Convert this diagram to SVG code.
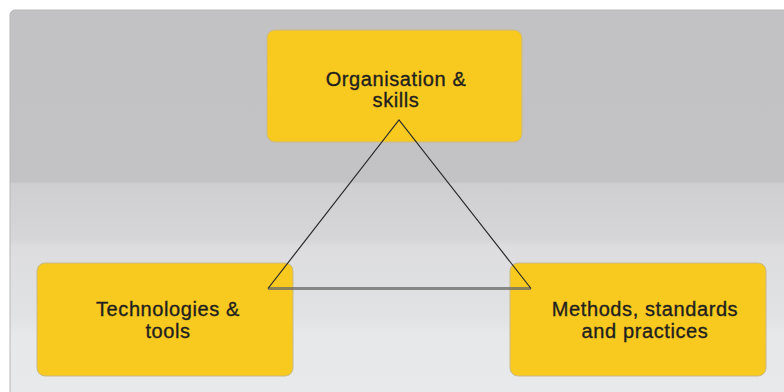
<svg xmlns="http://www.w3.org/2000/svg" width="784" height="392" viewBox="0 0 784 392">
<defs>
<linearGradient id="bg" x1="0" y1="10" x2="0" y2="392" gradientUnits="userSpaceOnUse">
<stop offset="0" stop-color="#c2c2c4"/>
<stop offset="0.45" stop-color="#c3c3c5"/>
<stop offset="0.455" stop-color="#cfcfd1"/>
<stop offset="0.6" stop-color="#d6d6d8"/>
<stop offset="0.62" stop-color="#dddddf"/>
<stop offset="0.8" stop-color="#e1e2e4"/>
<stop offset="0.85" stop-color="#e7e8ea"/>
<stop offset="1" stop-color="#e8e9eb"/>
</linearGradient>
<style>
.box{fill:#f8c91f;stroke:#c9b98a;stroke-width:1}
.lbl{font-family:"Liberation Sans",Arial,sans-serif;font-size:20px;letter-spacing:0.6px;fill:#1f1f1f;stroke:#1f1f1f;stroke-width:0.35;text-anchor:middle}
.side{fill:none;stroke:#2a2a2a;stroke-width:1.2}
.base{fill:none;stroke:#6a6a6a;stroke-width:3;stroke-opacity:0.75}
</style>
</defs>
<rect width="784" height="392" fill="#ffffff"/>
<rect x="10" y="10" width="790" height="400" rx="5" fill="url(#bg)" stroke="#b8b8ba" stroke-width="1"/>
<g id="node-organisation">
<rect class="box" x="267" y="30" width="255" height="112" rx="8"/>
<text class="lbl" x="396" y="86">Organisation &amp;</text>
<text class="lbl" x="396" y="107">skills</text>
</g>
<g id="node-technologies">
<rect class="box" x="37" y="263" width="256" height="113" rx="8"/>
<text class="lbl" x="168" y="316">Technologies &amp;</text>
<text class="lbl" x="168" y="338">tools</text>
</g>
<g id="node-methods">
<rect class="box" x="510" y="263" width="256" height="113" rx="8"/>
<text class="lbl" x="645" y="316">Methods, standards</text>
<text class="lbl" x="645" y="338">and practices</text>
</g>
<g id="connectors">
<line class="base" x1="268" y1="288.5" x2="531" y2="288.5"/>
<polyline class="side" points="268,288.5 399,120 531,288.5"/>
</g>
</svg>
